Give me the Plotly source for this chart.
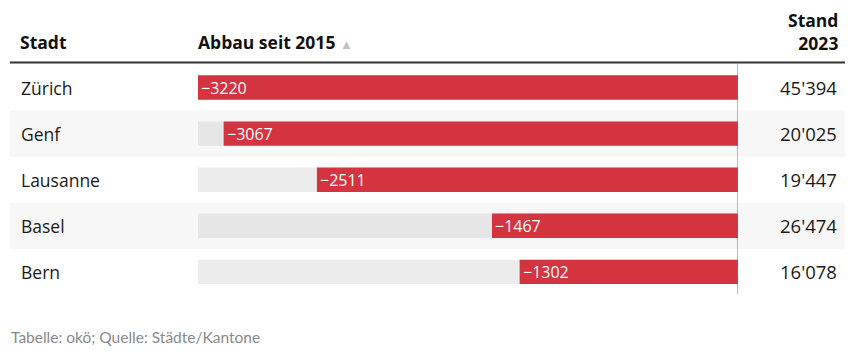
import plotly.graph_objects as go

cities = ["Zürich", "Genf", "Lausanne", "Basel", "Bern"]
abbau = [-3220, -3067, -2511, -1467, -1302]
stand = [45394, 20025, 19447, 26474, 16078]
footer = "Tabelle: okö; Quelle: Städte/Kantone"

OFF = 8  # page body margin
W, H = 853 - OFF, 363 - OFF
RED = "#d43340"
FONT = "Open Sans"

def px(p):
    return (p - OFF) / W

def py(p):
    return 1 - (p - OFF) / H

x0_px, x1_px = 198, 738
row0_px, row_h = 87.5 - OFF, 46.1

y_top = -row0_px / row_h
y_bot = (H - row0_px) / row_h

xmin = min(abbau)
idx = list(range(len(cities)))

fig = go.Figure()
bg_cols = ["#ececec" if i % 2 == 0 else "#e6e6e6" for i in idx]
fig.add_trace(go.Bar(x=[xmin] * len(cities), y=idx, orientation="h",
                     marker=dict(color=bg_cols, line=dict(width=0)),
                     width=0.53, hoverinfo="skip"))
fig.add_trace(go.Bar(x=abbau, y=idx, orientation="h",
                     marker=dict(color=RED, line=dict(width=0)),
                     width=0.53, hoverinfo="skip"))

shapes = []
for i in idx:
    if i % 2 == 1:
        shapes.append(dict(type="rect", xref="paper", yref="y", x0=px(10), x1=px(847),
                           y0=i - 0.5, y1=i + 0.5, fillcolor="#f7f7f7",
                           line=dict(width=0), layer="below"))
shapes.append(dict(type="line", xref="paper", yref="paper", x0=px(10), x1=px(846),
                   y0=py(62.5), y1=py(62.5), line=dict(color="#333333", width=2)))
shapes.append(dict(type="line", xref="x", yref="paper", x0=0, x1=0,
                   y0=py(63.5), y1=py(294), line=dict(color="#777777", width=1)))

ann = []
def fmt(v):
    return f"{v:,}".replace(",", "'")

body = dict(family=FONT, size=17.5, color="#1a1a1a")
num = dict(family=FONT, size=18.5, color="#1a1a1a")
for i, c in enumerate(cities):
    ann.append(dict(x=px(19), xref="paper", y=i, yref="y", text=c, showarrow=False,
                    xanchor="left", yanchor="middle", font=body))
    ann.append(dict(x=abbau[i], xref="x", y=i, yref="y", text="−" + str(abs(abbau[i])),
                    showarrow=False, xanchor="left", yanchor="middle", xshift=1,
                    font=dict(family=FONT, size=16, color="white")))
    ann.append(dict(x=px(839), xref="paper", y=i, yref="y", text=fmt(stand[i]),
                    showarrow=False, xanchor="right", yanchor="middle", font=num))

hdr = dict(family=FONT, size=17.5, color="#111111")
ann.append(dict(x=px(18), xref="paper", y=py(42), yref="paper", text="<b>Stadt</b>",
                showarrow=False, xanchor="left", yanchor="middle", font=hdr))
ann.append(dict(x=px(196), xref="paper", y=py(42), yref="paper",
                text="<b>Abbau seit 2015</b> <span style='color:#c0c0c0;font-size:13px'>▲</span>",
                showarrow=False, xanchor="left", yanchor="middle", font=hdr))
ann.append(dict(x=px(840), xref="paper", y=py(31), yref="paper",
                text="<b>Stand</b><br><b>2023</b>", align="right",
                showarrow=False, xanchor="right", yanchor="middle", font=hdr))
ann.append(dict(x=px(9), xref="paper", y=py(337), yref="paper", text=footer,
                showarrow=False, xanchor="left", yanchor="middle",
                font=dict(family="Lato", size=15.5, color="#8a8a8a")))

fig.update_layout(
    width=W, height=H, margin=dict(l=0, r=0, t=0, b=0),
    paper_bgcolor="white", plot_bgcolor="rgba(0,0,0,0)",
    barmode="overlay", showlegend=False,
    xaxis=dict(domain=[px(x0_px), px(x1_px)], range=[xmin, 0], visible=False, fixedrange=True),
    yaxis=dict(domain=[0, 1], range=[y_bot, y_top], visible=False, fixedrange=True),
    shapes=shapes, annotations=ann,
)

fig.write_html("out.html")
